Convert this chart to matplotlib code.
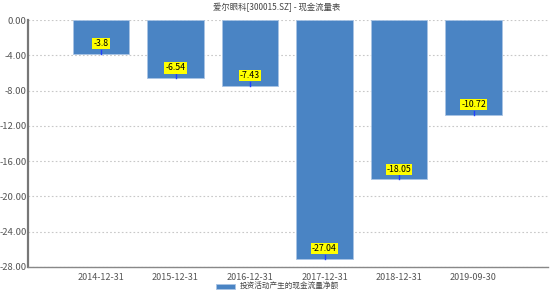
import matplotlib
matplotlib.use('Agg')
import matplotlib.pyplot as plt

plt.rcParams['font.family'] = ['Noto Sans CJK SC', 'DejaVu Sans']

dates = ['2014-12-31', '2015-12-31', '2016-12-31', '2017-12-31', '2018-12-31', '2019-09-30']
values = [-3.8, -6.54, -7.43, -27.04, -18.05, -10.72]
yticks = [0, -4, -8, -12, -16, -20, -24, -28]
title = '爱尔眼科[300015.SZ] - 现金流量表'
series_name = '投资活动产生的现金流量净额'

fig = plt.figure(figsize=(5.54, 2.96), dpi=100)
ax = fig.add_axes([28/554, 1 - 267/296, 520/554, 247/296])

x = list(range(len(dates)))
ax.bar(x, values, width=0.76, color='#4a84c4', edgecolor='#a9c4e4', linewidth=0.6,
       label=series_name, zorder=2)

for xi, v in zip(x, values):
    ax.plot([xi, xi], [v, v + 0.45], color='#2040ff', lw=1, zorder=3)
    ax.text(xi, v + 1.1, str(v), ha='center', va='center', fontsize=6.3,
            color='black', zorder=4,
            bbox=dict(boxstyle='square,pad=0.12', fc='#ffff00', ec='none'))

ax.set_xlim(-0.98, 6.0)
ax.set_ylim(-28, 0)
ax.set_yticks(yticks)
ax.set_yticklabels(['%.2f' % t for t in yticks])
ax.set_xticks(x)
ax.set_xticklabels(dates)
ax.tick_params(axis='both', length=0, labelsize=6.5, colors='#555555', pad=4)
ax.tick_params(axis='y', labelsize=6.8, pad=1)

ax.grid(axis='y', linestyle=(0, (1.5, 2)), color='#c8c8c8', lw=0.8, zorder=0)
ax.spines['top'].set_visible(False)
ax.spines['right'].set_visible(False)
ax.spines['left'].set_color('#777777')
ax.spines['left'].set_linewidth(1.6)
ax.spines['bottom'].set_color('#888888')
ax.spines['bottom'].set_linewidth(1.0)

fig.text(0.5, 1 - 8/296, title, ha='center', va='center', fontsize=6, color='#444444')
leg = fig.legend(loc='center', bbox_to_anchor=(0.5, 1 - 287/296), frameon=False,
                 fontsize=5.5, handlelength=2.6, handleheight=0.6, handletextpad=0.5)
for t in leg.get_texts():
    t.set_color('#444444')

fig.savefig('out.png', dpi=100)
